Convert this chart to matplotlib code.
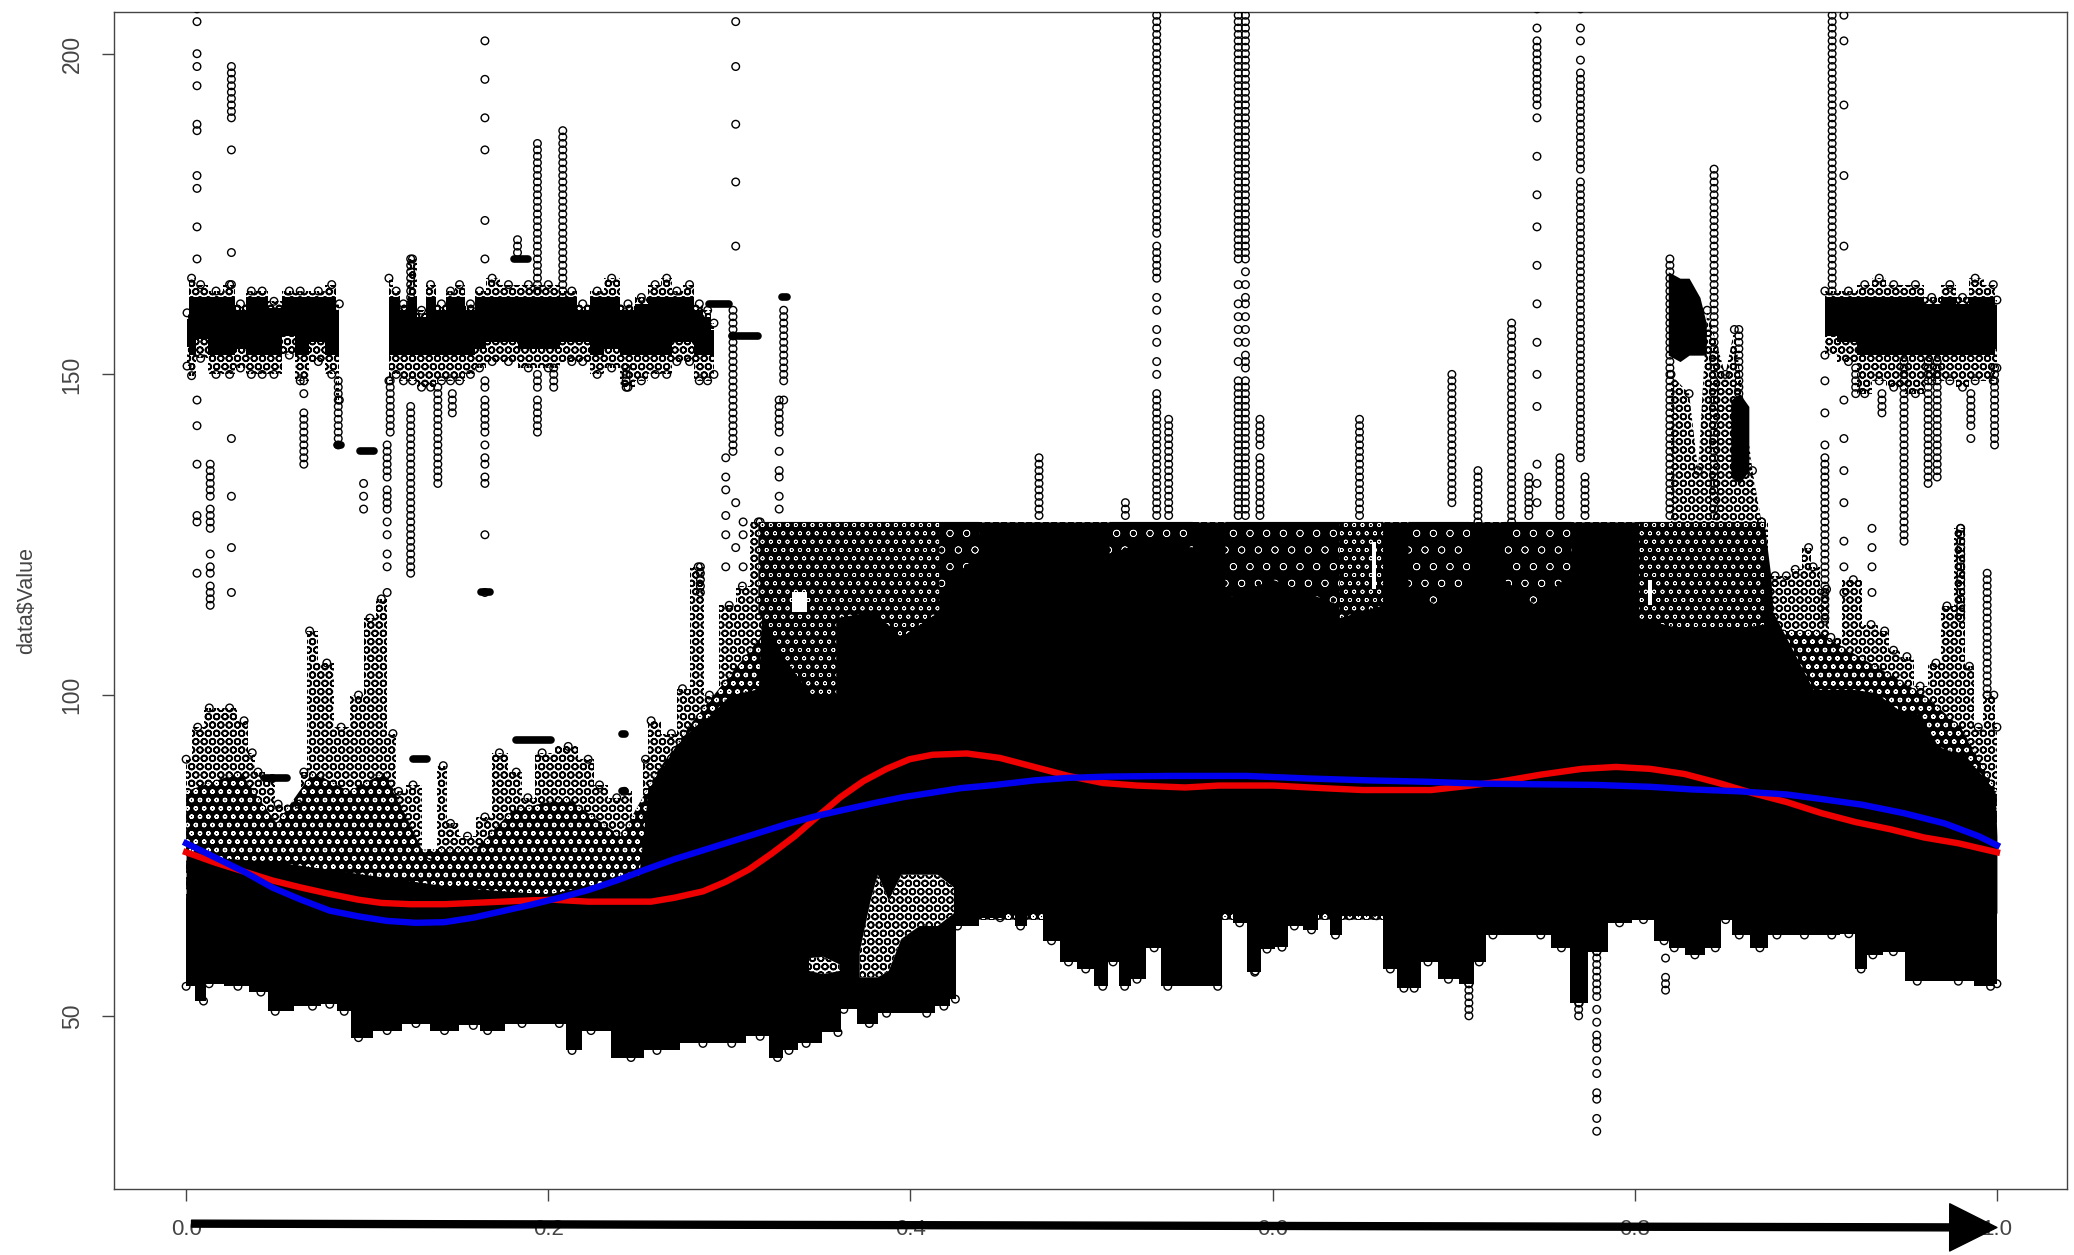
import numpy as np
import matplotlib
matplotlib.use('Agg')
import matplotlib.pyplot as plt

plt.rcParams['font.family'] = ['Liberation Sans', 'DejaVu Sans']
plt.rcParams['hatch.linewidth'] = 1.2

# smoothers
line_x_red = [0.0, 0.0159, 0.0318, 0.0476, 0.0635, 0.0793, 0.0952, 0.1078, 0.1237, 0.1427, 0.1586, 0.1744, 0.1903, 0.2029, 0.222, 0.2378, 0.2568, 0.2695, 0.2854, 0.298, 0.3107, 0.3234, 0.3361, 0.3488, 0.3614, 0.3741, 0.3868, 0.3995, 0.4122, 0.4312, 0.4495, 0.4684, 0.4873, 0.5062, 0.5251, 0.5516, 0.5705, 0.6007, 0.6272, 0.6498, 0.6876, 0.7065, 0.7254, 0.7481, 0.7708, 0.7897, 0.8086, 0.8275, 0.8464, 0.8653, 0.8842, 0.9031, 0.922, 0.9409, 0.9598, 0.9787, 1.0]
line_y_red = [75.5, 73.9, 72.5, 71.1, 70, 69, 68.1, 67.6, 67.4, 67.4, 67.6, 67.8, 68, 68.1, 67.8, 67.8, 67.8, 68.4, 69.4, 70.9, 72.8, 75.3, 78, 81.1, 84.1, 86.6, 88.5, 90, 90.7, 90.9, 90.2, 88.8, 87.4, 86.3, 85.9, 85.6, 85.9, 85.9, 85.5, 85.2, 85.2, 85.8, 86.5, 87.6, 88.5, 88.8, 88.5, 87.7, 86.3, 84.7, 83.3, 81.6, 80.2, 79.1, 77.8, 76.9, 75.5]
line_x_blue = [0.0, 0.0159, 0.0318, 0.0476, 0.0635, 0.0793, 0.0952, 0.111, 0.1269, 0.1427, 0.1586, 0.1744, 0.1903, 0.2061, 0.222, 0.2378, 0.2537, 0.2695, 0.2854, 0.3012, 0.3171, 0.3329, 0.3488, 0.3646, 0.3805, 0.3963, 0.4122, 0.428, 0.447, 0.4684, 0.4873, 0.51, 0.544, 0.5856, 0.6196, 0.6536, 0.6839, 0.7141, 0.7443, 0.7784, 0.8086, 0.8313, 0.8577, 0.8842, 0.9031, 0.9258, 0.9485, 0.9711, 0.99, 1.0]
line_y_blue = [76.9, 74.7, 72.5, 70, 68.1, 66.4, 65.5, 64.8, 64.5, 64.6, 65.3, 66.3, 67.3, 68.4, 69.6, 71.1, 72.8, 74.4, 75.8, 77.2, 78.6, 80, 81.2, 82.2, 83.2, 84.1, 84.8, 85.5, 86, 86.7, 87.1, 87.3, 87.4, 87.4, 87, 86.7, 86.5, 86.2, 86.1, 86, 85.7, 85.3, 85, 84.5, 83.8, 82.9, 81.6, 80, 78, 76.6]

# main mass: sparse top edge, darker inner edge, solid top edge, bottom edge
top_x = [0.0, 0.0064, 0.0128, 0.024, 0.032, 0.0365, 0.0397, 0.0476, 0.0508, 0.0619, 0.065, 0.0682, 0.0777, 0.0856, 0.0952, 0.1015, 0.1078, 0.1142, 0.1173, 0.1253, 0.1348, 0.142, 0.146, 0.1554, 0.165, 0.173, 0.1823, 0.1887, 0.1966, 0.211, 0.222, 0.2283, 0.2378, 0.242, 0.2505, 0.2537, 0.2568, 0.2680, 0.2741, 0.2828, 0.289, 0.2999, 0.3072, 0.3160, 0.3170, 0.87, 0.8775, 0.8837, 0.8886, 0.896, 0.8985, 0.9059, 0.9083, 0.9207, 0.9305, 0.938, 0.9429, 0.9503, 0.9576, 0.9663, 0.9724, 0.9799, 0.9848, 0.9897, 0.9946, 0.9983, 1.0]
top_y = [90, 95, 98, 98, 96, 91, 88, 87, 83, 83, 88, 110, 105, 95, 100, 112, 115, 94, 85, 86, 75, 89, 80, 78, 81, 91, 88, 84, 91, 92, 90, 86, 84, 85, 81, 90, 96, 94, 101, 120, 100, 114, 117, 127, 127, 127, 118.6, 118.6, 119.6, 123, 120, 116.5, 109, 118, 111, 110, 107, 106, 101.4, 105, 113.9, 126, 104.5, 95, 100, 100, 95]
inner_x = [0.0, 0.03, 0.05, 0.07, 0.09, 0.11, 0.13, 0.16, 0.18, 0.21, 0.24, 0.26, 0.28, 0.32, 0.87, 0.875, 0.9, 0.93, 0.96, 0.98, 1.0]
inner_y = [85, 88, 80, 88, 85, 88, 76, 76, 82, 84, 78, 88, 96, 110, 120, 110, 110, 105, 100, 95, 85]
solid_x = [0.0, 0.05, 0.1, 0.15, 0.2, 0.25, 0.255, 0.27, 0.28, 0.29, 0.30, 0.316, 0.32, 0.8714, 0.8751, 0.8763, 0.8985, 0.9207, 0.933, 0.9453, 0.9576, 0.9675, 0.9823, 0.9922, 0.999, 1.0]
solid_y = [75, 74, 72, 70, 69, 72, 85, 92, 95, 97, 100, 101, 127, 127, 118.6, 113, 100.9, 100.9, 100.4, 97.8, 97, 92, 90.5, 87.4, 85, 78]
low_x = [0.0, 0.0096, 0.0127, 0.0286, 0.0413, 0.0492, 0.0698, 0.0793, 0.0873, 0.0952, 0.111, 0.1269, 0.1427, 0.1586, 0.1665, 0.1855, 0.2061, 0.2131, 0.2236, 0.2457, 0.26, 0.2854, 0.3013, 0.317, 0.3266, 0.3329, 0.3424, 0.36, 0.3632, 0.3773, 0.3868, 0.409, 0.4185, 0.4248, 0.426, 0.4495, 0.4552, 0.4608, 0.4684, 0.4779, 0.4873, 0.4968, 0.5062, 0.5119, 0.5183, 0.5251, 0.5346, 0.5421, 0.5697, 0.5742, 0.5818, 0.5901, 0.5969, 0.6052, 0.612, 0.6215, 0.629, 0.6347, 0.6423, 0.6574, 0.665, 0.6725, 0.6782, 0.6858, 0.6971, 0.7084, 0.7141, 0.7217, 0.7481, 0.7595, 0.7693, 0.7791, 0.7916, 0.8048, 0.8162, 0.8218, 0.8332, 0.8445, 0.8502, 0.8577, 0.8691, 0.8785, 0.8937, 0.9088, 0.9182, 0.925, 0.9315, 0.9428, 0.956, 0.9787, 0.9965, 1.0]
low_y = [54.6, 52.3, 55, 54.6, 53.7, 50.7, 51.5, 51.8, 50.7, 46.6, 47.7, 48.8, 47.7, 48.5, 47.7, 48.8, 48.8, 44.6, 47.7, 43.5, 44.6, 45.7, 45.7, 46.8, 43.5, 44.6, 45.7, 47.4, 51, 48.8, 50.4, 50.4, 51.5, 52.6, 64, 65.3, 67.8, 64, 66.7, 61.7, 58.4, 57.3, 54.6, 58.4, 54.6, 55.7, 60.6, 54.6, 54.6, 68, 64.5, 56.8, 60.4, 60.7, 64, 63.4, 67.8, 62.6, 65.6, 65.6, 57.3, 54.3, 54.3, 58.4, 55.7, 55, 58.4, 62.6, 62.6, 60.6, 52, 60, 64.5, 65, 61.7, 60.6, 59.5, 60.6, 65, 62.6, 60.6, 62.6, 62.6, 62.6, 62.8, 57.3, 59.5, 60, 55.4, 55.4, 54.6, 55]

# upper band around 158
band1_x = [0.0005, 0.003, 0.008, 0.0165, 0.024, 0.030, 0.036, 0.042, 0.0485, 0.057, 0.063, 0.073, 0.0804, 0.0846]
band1_hi = [159.6, 165, 164, 163, 164, 161, 163, 163, 161.4, 163, 163, 163, 164, 161]
band1_lo = [151.3, 149.8, 152.5, 150, 150, 151, 150, 150, 150, 153, 149, 152, 150, 146]
band2_x = [0.112, 0.116, 0.120, 0.125, 0.130, 0.135, 0.141, 0.146, 0.151, 0.157, 0.162, 0.169, 0.178, 0.189, 0.200, 0.213, 0.219, 0.227, 0.235, 0.244, 0.2514, 0.259, 0.2654, 0.271, 0.278, 0.2834, 0.288, 0.2915]
band2_hi = [165, 163, 161, 168, 160, 164, 161, 163, 164, 161, 163, 165, 164, 164, 164, 163, 161, 163, 165, 161, 162, 164, 165, 163, 164, 161, 160, 158]
band2_lo = [149, 150, 149, 149, 148, 148, 149, 149, 149, 150, 151, 152, 152, 151, 151, 152, 152, 150, 151, 148, 149, 150, 150, 152, 152, 149, 149, 150]
band3_x = [0.905, 0.918, 0.927, 0.935, 0.943, 0.955, 0.964, 0.974, 0.981, 0.988, 0.998, 1.0]
band3_hi = [163, 163, 164, 165, 164, 164, 162, 164, 162, 165, 164, 161.6]
band3_lo = [153, 152, 147, 149, 148, 147, 149, 149, 148, 149, 149, 151]

# cluster above the mass near 0.85
cluster_x = [0.82, 0.83, 0.835, 0.84, 0.85, 0.855, 0.865, 0.87]
cluster_hi = [150, 147, 135, 160, 150, 157, 135, 127]
blob_a_x = [0.8185, 0.825, 0.83, 0.836, 0.8395]
blob_a_hi = [166, 165, 165, 162, 158]
blob_a_lo = [153, 152, 153, 153, 153]
blob_b_x = [0.853, 0.858, 0.863]
blob_b_hi = [146, 147, 145]
blob_b_lo = [134, 133, 135]

# light patches inside the mass
hole_a_x = [0.372, 0.378, 0.382, 0.388, 0.395, 0.405, 0.415, 0.424]
hole_a_hi = [60, 68, 72, 68, 72, 72, 72, 70]
hole_a_lo = [56, 56, 56, 57, 62, 64, 64, 66]
hole_b_x = [0.344, 0.352, 0.361]
hole_b_hi = [59, 59.2, 58]
hole_b_lo = [57, 56.5, 57]

# speckled stretches below the flat top at 127
dense_x = [[0.316, 0.33, 0.345, 0.359], [0.359, 0.38, 0.395, 0.416], [0.637, 0.661], [0.8024, 0.83, 0.85, 0.8714]]
dense_lo = [[112.8, 106, 100, 100], [112, 113, 109, 113], [112, 114], [112, 110, 110, 111]]
dense_hi = [[127, 127, 127, 127], [127, 127, 127, 127], [127, 127], [127, 127, 127, 127]]
sparse_x = [[0.416, 0.426, 0.438], [0.51, 0.53, 0.556], [0.574, 0.6, 0.637], [0.675, 0.69, 0.709], [0.728, 0.745, 0.765]]
sparse_lo = [[116, 119, 122], [122, 124, 123], [115, 118, 114], [117, 114, 118], [118, 114, 119]]
sparse_hi = [[127, 127, 127], [127, 127, 127], [127, 127, 127], [127, 127, 127], [127, 127, 127]]
# clear gaps
gap_x = [[0.3345, 0.3430], [0.655, 0.657], [0.8075, 0.8095]]
gap_lo = [[113, 113], [116.5, 116.5], [114, 114]]
gap_hi = [[116, 116], [123.8, 123.8], [118, 118]]

# flat runs of repeated values
run_lo = [0.0835, 0.096, 0.181, 0.289, 0.3015, 0.329, 0.182, 0.043, 0.1255, 0.163, 0.2405, 0.2405]
run_hi = [0.0855, 0.104, 0.189, 0.300, 0.316, 0.332, 0.2014, 0.0555, 0.133, 0.168, 0.2425, 0.2425]
run_y = [139, 138, 168, 161, 156, 162, 93, 87, 90, 116, 94, 85]

# single columns of points
col_x = [0.006, 0.0133, 0.025, 0.065, 0.084, 0.098, 0.111, 0.1127, 0.124, 0.139, 0.147, 0.165, 0.183, 0.194, 0.203, 0.208, 0.243, 0.284, 0.298, 0.302, 0.3035, 0.3076, 0.3275, 0.33,
         0.471, 0.5187, 0.536, 0.5426, 0.581, 0.585, 0.593, 0.648, 0.699, 0.7134, 0.732, 0.7415, 0.746, 0.7587, 0.770, 0.7725, 0.8194, 0.8438, 0.8575, 0.905, 0.909, 0.9155, 0.922, 0.931, 0.9365, 0.9487, 0.962, 0.967, 0.98, 0.9856, 0.9987, 0.9946,
         0.769, 0.779, 0.7084, 0.817, 0.5905]
col_y = [
    [207, 205, 200, 198, 195, 189, 188, 181, 179, 173, 168, 146, 142, 136, 128, 127, 119],
    [136, 135, 134, 133, 132, 131, 129, 128, 127, 126, 122, 120, 119, 117, 116, 115, 114],
    [198, 197, 196, 195, 194, 193, 192, 191, 190, 185, 169, 164, 140, 131, 123, 116],
    [149, 147, 144, 143, 142, 141, 140, 139, 138, 137, 136],
    [149, 148, 147, 146, 145, 144, 143, 142, 141, 140, 139],
    [133, 131, 129],
    [139, 138, 137, 136, 135, 134, 132, 131, 130, 129, 127, 125, 122, 120, 116],
    [149, 148, 147, 146, 145, 144, 143, 142, 141],
    [168, 167, 166, 165, 164, 163, 162, 161, 160, 145, 144, 143, 142, 141, 140, 139, 138, 137, 136, 135, 134, 133, 132, 131, 130, 129, 128, 127, 126, 125, 124, 123, 122, 121, 120, 119],
    [148, 147, 146, 145, 144, 143, 142, 141, 140, 139, 138, 137, 136, 135, 134, 133],
    [147, 146, 145, 144],
    [202, 196, 190, 185, 174, 168, 149, 148, 146, 145, 144, 143, 142, 141, 139, 137, 136, 134, 133, 125, 116],
    [171, 170, 169],
    [186, 185, 184, 183, 182, 181, 180, 179, 178, 177, 176, 175, 174, 173, 172, 171, 170, 169, 168, 167, 166, 165, 164, 163, 150, 149, 148, 146, 145, 144, 143, 142, 141],
    [151, 150, 149, 148],
    [188, 187, 186, 185, 184, 183, 182, 181, 180, 179, 178, 177, 176, 175, 174, 173, 172, 171, 170, 169, 168, 167, 166, 165, 164, 163, 162],
    [151, 150, 149, 148],
    [120, 119, 118, 117, 116],
    [137, 134, 132, 128, 125, 120],
    [160, 159, 158, 157, 156, 155, 154, 153, 152, 151, 150, 149, 148, 147, 146, 145, 144, 143, 142, 141, 140, 139, 138],
    [205, 198, 189, 180, 170, 130, 123],
    [127, 125, 120],
    [146, 145, 144, 143, 142, 141, 138, 135, 134, 131, 129],
    [160, 159, 158, 157, 156, 155, 154, 153, 152, 151, 150, 149, 146],
    [137, 136, 135, 134, 133, 132, 131, 130, 129, 128],
    [130, 129, 128],
    [207, 206, 205, 204, 203, 202, 201, 200, 199, 198, 197, 196, 195, 194, 193, 192, 191, 190, 189, 188, 187, 186, 185, 184, 183, 182, 181, 180, 179, 178, 177, 176, 175, 174, 173, 172, 170, 169, 168, 167, 166, 165, 162, 160, 157, 155, 152, 150, 147, 146, 145, 144, 143, 142, 141, 140, 139, 138, 137, 136, 135, 134, 133, 132, 131, 130, 129, 128],
    [143, 142, 141, 140, 139, 138, 137, 136, 135, 134, 133, 132, 131, 130, 129, 128],
    [207, 206, 205, 204, 203, 202, 201, 200, 199, 198, 197, 196, 195, 194, 193, 192, 191, 190, 189, 188, 187, 186, 185, 184, 183, 182, 181, 180, 179, 178, 177, 176, 175, 174, 173, 172, 171, 170, 169, 168, 164, 161, 159, 157, 155, 152, 149, 148, 147, 146, 145, 144, 143, 142, 141, 140, 139, 138, 137, 136, 135, 134, 133, 132, 131, 130, 129, 128],
    [207, 206, 205, 204, 203, 202, 201, 200, 199, 198, 197, 196, 195, 194, 193, 192, 191, 190, 189, 188, 187, 186, 185, 184, 183, 182, 181, 180, 179, 178, 177, 176, 175, 174, 173, 172, 171, 170, 169, 168, 166, 164, 162, 161, 159, 157, 155, 153, 152, 151, 149, 148, 147, 146, 145, 144, 143, 142, 141, 140, 139, 138, 137, 136, 135, 134, 133, 132, 131, 130, 129, 128],
    [143, 142, 141, 140, 139, 137, 136, 135, 134, 133, 132, 131, 130, 129, 128],
    [143, 142, 141, 140, 139, 138, 137, 136, 135, 134, 133, 132, 131, 130, 129, 128],
    [150, 149, 148, 147, 146, 145, 144, 143, 142, 141, 140, 139, 138, 137, 136, 135, 134, 133, 132, 131, 130],
    [135, 134, 133, 132, 131, 130, 129, 128, 127],
    [158, 157, 156, 155, 154, 153, 152, 151, 150, 149, 148, 147, 146, 145, 144, 143, 142, 141, 140, 139, 138, 137, 136, 135, 134, 133, 132, 131, 130, 129, 128, 127],
    [134, 133, 132, 131, 130, 129, 128],
    [207, 204, 202, 201, 200, 199, 198, 197, 196, 195, 194, 193, 192, 190, 184, 178, 173, 167, 161, 155, 150, 145, 136, 133, 130],
    [137, 136, 135, 134, 133, 132, 131, 130, 129, 128],
    [207, 204, 202, 199, 197, 196, 195, 194, 193, 192, 191, 190, 189, 188, 187, 186, 185, 184, 183, 182, 180, 179, 178, 177, 176, 175, 174, 173, 172, 171, 170, 169, 168, 167, 166, 165, 164, 163, 162, 161, 160, 159, 158, 157, 156, 155, 154, 153, 152, 151, 150, 149, 148, 147, 146, 145, 144, 143, 142, 141, 140, 139, 138, 137],
    [134, 133, 132, 131, 130, 129, 128],
    [168, 167, 166, 165, 164, 163, 162, 161, 160, 159, 158, 157, 156, 155, 154, 153, 152, 151, 150, 149, 148, 147, 146, 145, 144, 143, 142, 141, 140, 139, 138, 137, 136, 135, 134, 133, 132, 131, 130, 129, 128],
    [182, 181, 180, 179, 178, 177, 176, 175, 174, 173, 172, 171, 170, 169, 168, 167, 166, 165, 164, 163, 162, 161, 160, 159, 158, 157, 156, 155, 154, 153, 152, 151, 150, 149, 148, 147, 146, 145, 144, 143, 142, 141, 140, 139, 138, 137, 136, 135, 134, 133, 132, 131, 130, 129, 128],
    [157, 156, 155, 154, 153, 152, 151, 150, 149, 148, 147],
    [149, 144, 139, 137, 136, 135, 134, 133, 132, 131, 130, 129, 128, 127, 126, 125, 124, 123, 122, 121, 120, 119, 118, 117, 116, 115, 114, 113, 112],
    [207, 206, 205, 204, 203, 202, 201, 200, 199, 198, 197, 196, 195, 194, 193, 192, 191, 190, 189, 188, 187, 186, 185, 184, 183, 182, 181, 180, 179, 178, 177, 176, 175, 174, 173, 172, 171, 170, 169, 168, 167, 166, 165, 164, 163],
    [206, 202, 192, 181, 170, 146, 140, 135, 130, 124, 120, 116],
    [151, 150, 149, 148, 147],
    [126, 123, 120, 116],
    [147, 146, 145, 144],
    [152, 151, 150, 149, 148, 147, 146, 145, 144, 143, 142, 141, 140, 139, 138, 137, 136, 135, 134, 133, 132, 131, 130, 129, 128, 127, 126, 125, 124],
    [152, 151, 150, 149, 148, 147, 146, 145, 144, 143, 142, 141, 140, 139, 138, 137, 136, 135, 134, 133],
    [152, 151, 150, 149, 148, 147, 146, 145, 144, 143, 142, 141, 140, 139, 138, 137, 136, 135, 134],
    [126, 125, 124, 123, 122, 121, 120, 119, 118, 117, 116, 115, 114, 113, 112],
    [147, 146, 145, 144, 143, 142, 140],
    [151, 150, 149, 148, 147, 146, 145, 144, 143, 142, 141, 140, 139],
    [119, 118, 117, 116, 115, 114, 113, 112, 111, 110, 109, 108, 107, 106, 105, 104, 103, 102, 101, 100],
    [60, 59, 58, 57, 56, 55, 54, 53, 52, 51, 50],
    [61, 60, 59, 58, 57, 56, 55, 54, 53, 51, 49, 47, 46, 45, 43, 41, 38, 37, 34, 32],
    [55, 54, 53, 52, 51, 50],
    [59, 56, 55, 54],
    [63, 62, 61, 60, 59, 58, 57],
]

x_ticks = [0.0, 0.2, 0.4, 0.6, 0.8, 1.0]
y_ticks = [50, 100, 150, 200]
arrow_start = (0.003, 17.6)
arrow_end = (1.0, 17.0)


def mesh(ax, x, lo, hi, step=None, zorder=2):
    # open circles too close together to read one by one
    ax.fill_between(x, lo, hi, facecolor='white', edgecolor='black', hatch='OO', linewidth=0, zorder=zorder, step=step)


def speckle(ax, x, lo, hi, hatch, lw=0.5, zorder=3):
    poly = ax.fill_between(x, lo, hi, facecolor='black', edgecolor='white', hatch=hatch, linewidth=0, zorder=zorder)
    poly.set_hatch_linewidth(lw)


def edge_points(ax, x, y):
    ax.scatter(x, y, s=30, facecolors='none', edgecolors='black', linewidths=1, zorder=3)


fig = plt.figure(figsize=(20.74, 12.55), dpi=100)
ax = fig.add_axes([113.7 / 2074, 66 / 1255, 1953.3 / 2074, 1177 / 1255])

# main mass
mesh(ax, top_x, 65, top_y, step='mid')
edge_points(ax, top_x, top_y)
speckle(ax, inner_x, 65, inner_y, 'oo', lw=0.9, zorder=2)
ax.fill_between(solid_x, 66, solid_y, color='black', linewidth=0, zorder=2)
ax.fill_between(low_x, low_y, 68, color='black', linewidth=0, zorder=2, step='mid')
edge_points(ax, low_x, low_y)

# bands
for bx, blo, bhi in [(band1_x, band1_lo, band1_hi), (band2_x, band2_lo, band2_hi), (band3_x, band3_lo, band3_hi)]:
    mesh(ax, bx, blo, bhi, step='mid')
    edge_points(ax, bx, bhi)
    edge_points(ax, bx, blo)
    # dark core sits just inside the edges that were read
    ax.fill_between(bx, np.maximum(np.array(blo) + 3, 153), np.minimum(np.array(bhi) - 1, 162), color='black', linewidth=0, zorder=2, step='mid')

mesh(ax, cluster_x, 126, cluster_hi)
edge_points(ax, cluster_x, cluster_hi)
ax.fill_between(blob_a_x, blob_a_lo, blob_a_hi, color='black', linewidth=0, zorder=2)
ax.fill_between(blob_b_x, blob_b_lo, blob_b_hi, color='black', linewidth=0, zorder=2)

for hx, hlo, hhi in [(hole_a_x, hole_a_lo, hole_a_hi), (hole_b_x, hole_b_lo, hole_b_hi)]:
    mesh(ax, hx, hlo, hhi, zorder=3)
for hx, hlo, hhi in zip(dense_x, dense_lo, dense_hi):
    speckle(ax, hx, hlo, hhi, 'oo')
for hx, hlo, hhi in zip(sparse_x, sparse_lo, sparse_hi):
    speckle(ax, hx, hlo, hhi, 'o', lw=0.4)
for hx, hlo, hhi in zip(gap_x, gap_lo, gap_hi):
    ax.fill_between(hx, hlo, hhi, color='white', linewidth=0, zorder=3)

# columns and runs
for cx, cy in zip(col_x, col_y):
    edge_points(ax, [cx] * len(cy), cy)
ax.hlines(run_y, run_lo, run_hi, color='black', linewidth=5.5, capstyle='round', zorder=3)

ax.plot(line_x_red, line_y_red, color='#ee0000', linewidth=4.6, zorder=5)
ax.plot(line_x_blue, line_y_blue, color='#0000ee', linewidth=4.6, zorder=6)

ax.set_xlim(-0.04, 1.0387)
ax.set_ylim(23.0, 206.5)
ax.set_xticks(x_ticks)
ax.set_xticklabels([f'{t:.1f}' for t in x_ticks])
ax.set_yticks(y_ticks)
ax.set_yticklabels([str(t) for t in y_ticks], rotation=90, va='center')
ax.tick_params(axis='x', length=8.6, width=1, color='#444444', labelcolor='#444444', labelsize=16, pad=13)
ax.tick_params(axis='y', length=8.6, width=1, color='#444444', labelcolor='#444444', labelsize=16.5, pad=13)
for spine in ax.spines.values():
    spine.set_color('#444444')
    spine.set_linewidth(1)
fig.text(27 / 2074, 1 - 600 / 1255, 'data$Value', rotation=90, ha='center', va='center', fontsize=15.5, color='#444444', parse_math=False)

ax.annotate('', xy=arrow_end, xytext=arrow_start, annotation_clip=False, zorder=7,
            arrowprops=dict(facecolor='black', edgecolor='black', width=5, headwidth=34, headlength=34, shrink=0))

fig.savefig('out.png', dpi=100)
